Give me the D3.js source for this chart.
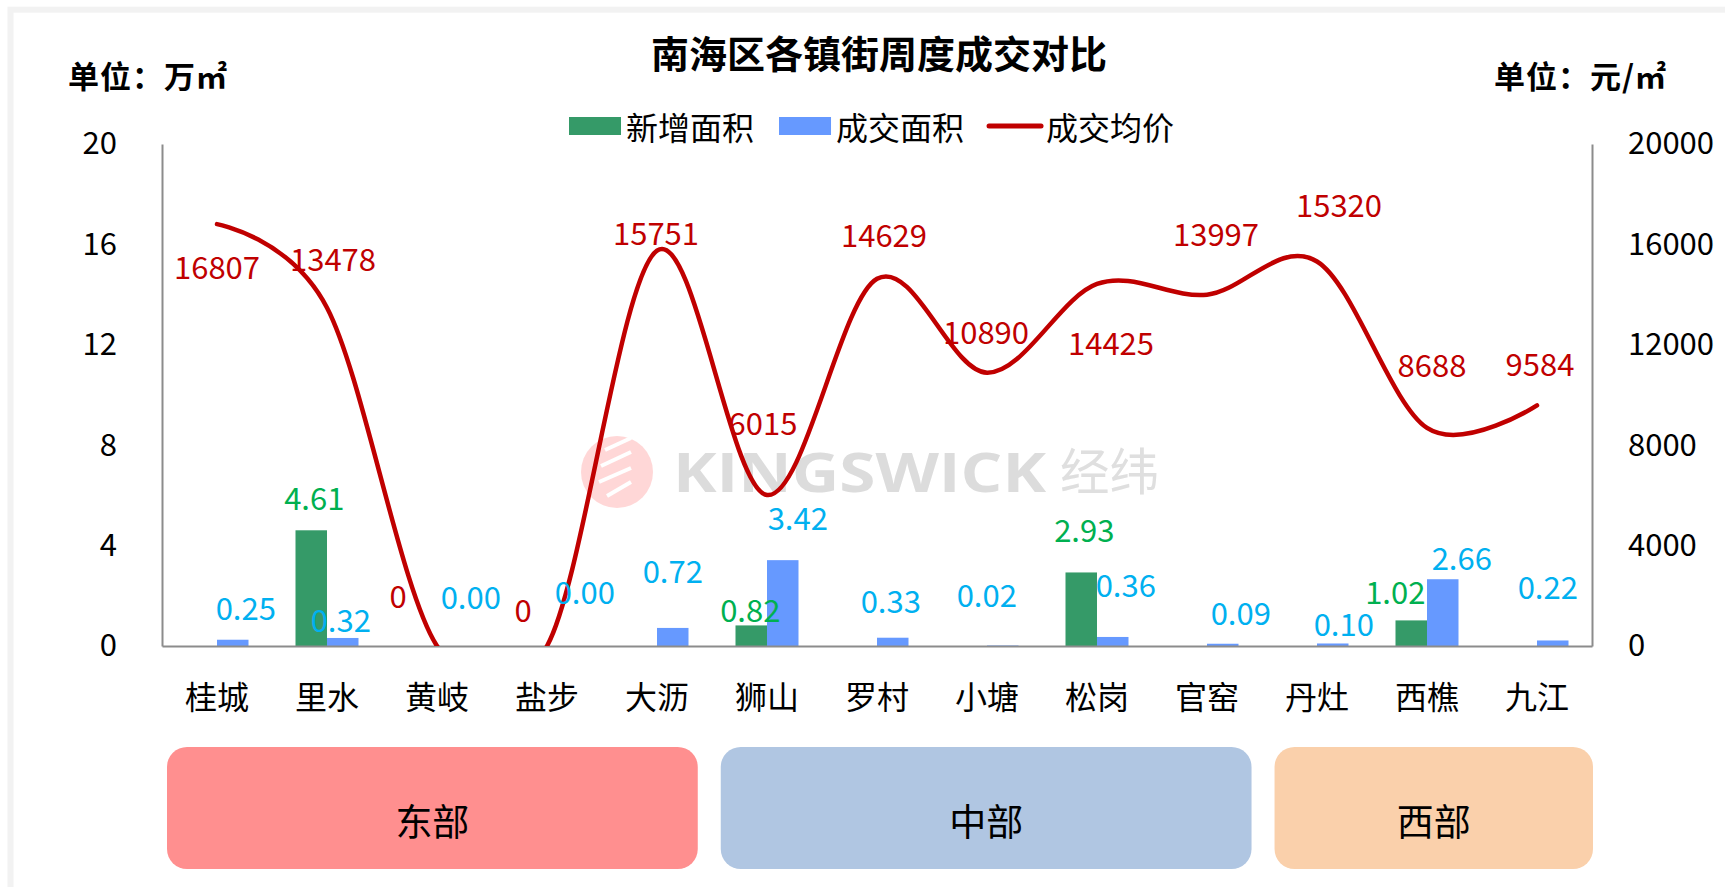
<!DOCTYPE html>
<html><head><meta charset="utf-8">
<script src="https://cdn.jsdelivr.net/npm/d3@7"></script>
<style>
html,body{margin:0;padding:0;background:#fff;}
svg{display:block;font-family:"Noto Sans CJK SC","Microsoft YaHei",sans-serif;}
</style></head><body>
<svg id="chart" width="1725" height="887"></svg>
<script>
// ---------------- data ----------------
const categories = ["桂城","里水","黄岐","盐步","大沥","狮山","罗村","小塘","松岗","官窑","丹灶","西樵","九江"];
const newArea   = [null, 4.61, null, null, null, 0.82, null, null, 2.93, null, null, 1.02, null];
const dealArea  = [0.25, 0.32, 0.00, 0.00, 0.72, 3.42, 0.33, 0.02, 0.36, 0.09, 0.10, 2.66, 0.22];
const avgPrice  = [16807, 13478, 0, 0, 15751, 6015, 14629, 10890, 14425, 13997, 15320, 8688, 9584];
const leftTicks  = [0, 4, 8, 12, 16, 20];
const rightTicks = [0, 4000, 8000, 12000, 16000, 20000];
const seriesNames = ["新增面积", "成交面积", "成交均价"];
const regionNames = ["东部", "中部", "西部"];
const regionFirst = ["桂城", "狮山", "丹灶"];
const regionLast  = ["大沥", "官窑", "九江"];
const titleText = "南海区各镇街周度成交对比";
const leftUnit = "单位：万㎡";
const rightUnit = "单位：元/㎡";

// ---------------- layout (label nudges in px) ----------------
const priceNudge = [[0,41],[6,-50],[-39,-52],[-24,-38],[-1,-19],[-4,-74],[7,-45],[-1,-42],[14,58],[9,-62],[22,-58],[5,-64],[3,-43]];
const dealNudge  = [[13,-33],[-2,-19],[18,-51],[22,-56],[0,-58],[15,-44],[-2,-38],[-16,-52],[13,-53],[18,-32],[11,-21],[19,-23],[-5,-55]];
const newNudge   = [null,[3,-34],null,null,null,[-1,-17],null,null,[3,-44],null,null,[-16,-30],null];

const C = {green:"#359A68", blue:"#6699FF", red:"#C00000", redLbl:"#C00000", blueLbl:"#00B0F0", greenLbl:"#00B050", axis:"#8C8C8C"};
const regionColors = ["#FF8F8F", "#B0C6E2", "#FAD0AB"];

const svg = d3.select("#chart");
const L = 162, R = 1592, T = 144, B = 646;

// frame
svg.append("rect").attr("x",10.5).attr("y",9.7).attr("width",1800).attr("height",1000)
  .attr("fill","none").attr("stroke","#F2F2F2").attr("stroke-width",6);

const x = d3.scaleBand().domain(categories).range([L, R]).padding(0);
const yL = d3.scaleLinear().domain([0, 20]).range([B, T]);
const yR = d3.scaleLinear().domain([0, 20000]).range([B, T]);
const bw = 31.5;

// title & units
svg.append("text").attr("x",879).attr("y",51).attr("text-anchor","middle").attr("dominant-baseline","central")
  .attr("font-size",38).attr("font-weight",700).attr("fill","#000").text(titleText);
svg.append("text").attr("x",68).attr("y",74).attr("dominant-baseline","central")
  .attr("font-size",31).attr("font-weight",700).attr("letter-spacing",1).attr("fill","#000").text(leftUnit);
svg.append("text").attr("x",1667).attr("y",74).attr("text-anchor","end").attr("dominant-baseline","central")
  .attr("font-size",31).attr("font-weight",700).attr("letter-spacing",1).attr("fill","#000").text(rightUnit);

// legend
const lg = svg.append("g");
let lx = 569;
seriesNames.forEach((name, i) => {
  if (i < 2) {
    lg.append("rect").attr("x",lx).attr("y",117).attr("width",52).attr("height",18).attr("fill", i===0?C.green:C.blue);
  } else {
    lg.append("line").attr("x1",lx).attr("x2",lx+52).attr("y1",126).attr("y2",126)
      .attr("stroke",C.red).attr("stroke-width",5).attr("stroke-linecap","round");
  }
  const t = lg.append("text").attr("x",lx+57).attr("y",126).attr("dominant-baseline","central")
    .attr("font-size",32).attr("fill","#000").text(name);
  lx += 52 + 5 + t.node().getComputedTextLength() + 25;
});

// watermark
const wm = svg.append("g").attr("opacity",0.9);
wm.append("circle").attr("cx",617).attr("cy",472).attr("r",36).attr("fill","#FFD3D3");
[[-12,-22,14,-34],[-16,-6,14,-20],[-18,10,14,-4],[-10,24,14,10]].forEach(d=>{
  wm.append("line").attr("x1",617+d[0]).attr("y1",472+d[1]).attr("x2",617+d[2]).attr("y2",472+d[3])
    .attr("stroke","#fff").attr("stroke-width",4);
});
wm.append("text").attr("x",673).attr("y",492).attr("font-size",54).attr("font-weight",700)
  .attr("font-family","'Open Sans','DejaVu Sans',sans-serif")
  .attr("fill","#D9D9D9").attr("textLength",373).attr("lengthAdjust","spacingAndGlyphs").text("KINGSWICK");
wm.append("text").attr("x",1060).attr("y",490).attr("font-size",50)
  .attr("fill","#DCDCDC").attr("textLength",99).attr("lengthAdjust","spacingAndGlyphs").text("经纬");

// bars
const gBars = svg.append("g");
categories.forEach((c, i) => {
  const cx = x(c) + x.bandwidth()/2;
  if (newArea[i] != null) {
    gBars.append("rect").attr("x", cx - bw).attr("y", yL(newArea[i])).attr("width", bw)
      .attr("height", yL(0) - yL(newArea[i])).attr("fill", C.green);
  }
  if (dealArea[i] != null) {
    gBars.append("rect").attr("x", cx).attr("y", yL(dealArea[i])).attr("width", bw)
      .attr("height", yL(0) - yL(dealArea[i])).attr("fill", C.blue);
  }
});

// axes
function styleAxis(g){
  g.select(".domain").attr("stroke",C.axis).attr("stroke-width",2);
  g.selectAll("text").attr("font-size",31).attr("fill","#000")
    .attr("font-family","'Noto Sans CJK SC','Microsoft YaHei',sans-serif");
}
svg.append("g").attr("transform",`translate(${L},0)`)
  .call(d3.axisLeft(yL).tickValues(leftTicks).tickSize(0).tickPadding(45).tickFormat(d3.format("d"))).call(styleAxis);
svg.append("g").attr("transform",`translate(${R},0)`)
  .call(d3.axisRight(yR).tickValues(rightTicks).tickSize(0).tickPadding(36).tickFormat(d3.format("d"))).call(styleAxis);
svg.append("g").attr("transform",`translate(0,${B})`)
  .call(d3.axisBottom(x).tickSize(0).tickPadding(40)).call(g=>{styleAxis(g); g.selectAll("text").attr("font-size",32);});

// price line (smoothed, clipped to plot)
svg.append("clipPath").attr("id","plotclip").append("rect").attr("x",L).attr("y",60).attr("width",R-L+10).attr("height",B-60);
const line = d3.line()
  .x((d,i) => x(categories[i]) + x.bandwidth()/2)
  .y(d => yR(d))
  .curve(d3.curveCardinal.tension(0));
svg.append("path").attr("d", line(avgPrice)).attr("fill","none").attr("stroke",C.red)
  .attr("stroke-width",4.5).attr("stroke-linecap","round").attr("clip-path","url(#plotclip)");

// labels
const gL = svg.append("g").attr("font-size",31).attr("text-anchor","middle").attr("dominant-baseline","central");
categories.forEach((c, i) => {
  const cx = x(c) + x.bandwidth()/2;
  gL.append("text").attr("x", cx + priceNudge[i][0]).attr("y", yR(avgPrice[i]) + priceNudge[i][1])
    .attr("fill", C.redLbl).text(d3.format("d")(avgPrice[i]));
  gL.append("text").attr("x", cx + bw/2 + dealNudge[i][0]).attr("y", yL(dealArea[i]) + dealNudge[i][1])
    .attr("fill", C.blueLbl).text(dealArea[i].toFixed(2));
  if (newArea[i] != null) {
    gL.append("text").attr("x", cx - bw/2 + newNudge[i][0]).attr("y", yL(newArea[i]) + newNudge[i][1])
      .attr("fill", C.greenLbl).text(newArea[i].toFixed(2));
  }
});

// region boxes: widths proportional to number of towns, fixed gap
const boxL = L + 5, boxR = R + 1, gap = 23;
const counts = regionNames.map((n, k) => categories.indexOf(regionLast[k]) - categories.indexOf(regionFirst[k]) + 1);
const unit = (boxR - boxL - gap * (regionNames.length - 1)) / d3.sum(counts);
let bx = boxL;
regionNames.forEach((name, k) => {
  const w = counts[k] * unit;
  svg.append("rect").attr("x", bx).attr("y", 747).attr("width", w).attr("height", 122)
    .attr("rx", 20).attr("ry", 20).attr("fill", regionColors[k]);
  svg.append("text").attr("x", bx + w/2).attr("y", 820).attr("text-anchor","middle").attr("dominant-baseline","central")
    .attr("font-size", 37).attr("fill","#000").text(name);
  bx += w + gap;
});
</script>
</body></html>
